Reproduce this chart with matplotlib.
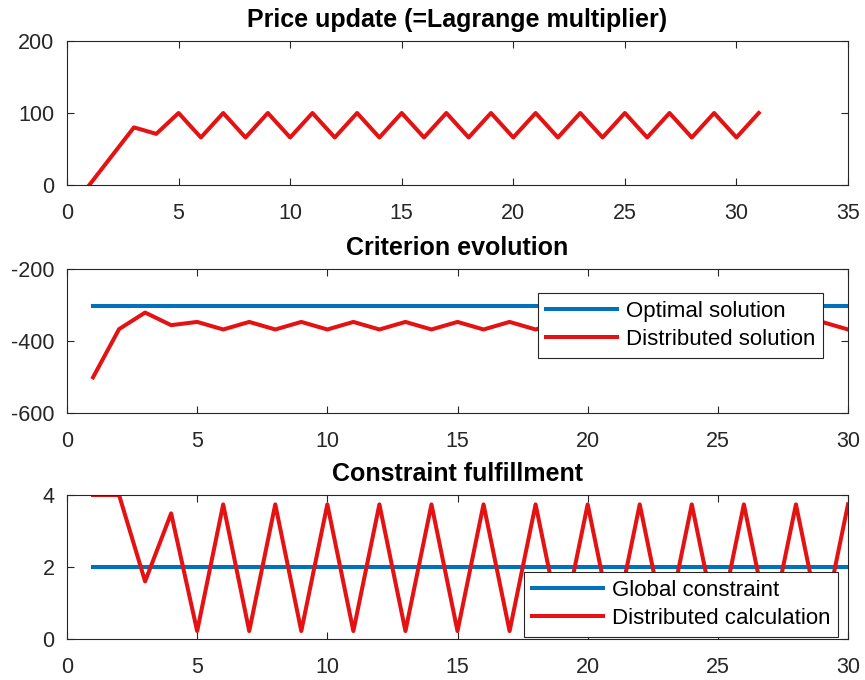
import matplotlib
matplotlib.use("Agg")
import matplotlib.pyplot as plt

plt.rcParams['font.family'] = ['Liberation Sans', 'DejaVu Sans']
plt.rcParams['axes.unicode_minus'] = False

# ---- data ----
price_x = list(range(1, 32))
price_y = [0, 40, 80, 71] + [100 if i % 2 == 1 else 66 for i in range(5, 32)]

crit_x = list(range(1, 31))
crit_opt = [-303] * 30
crit_dist = [-501, -367, -321, -356] + [-347 if i % 2 == 1 else -368 for i in range(5, 31)]

cons_x = list(range(1, 31))
cons_glob = [2] * 30
cons_dist = [4, 4, 1.6, 3.49] + [0.22 if i % 2 == 1 else 3.74 for i in range(5, 31)]

titles = ["Price update (=Lagrange multiplier)", "Criterion evolution", "Constraint fulfillment"]
legend_mid = ["Optimal solution", "Distributed solution"]
legend_bot = ["Global constraint", "Distributed calculation"]

BLUE = '#0072BD'
RED = '#E41212'

fig = plt.figure(figsize=(8.65, 6.8), dpi=100)
L, R = 67/865, 848/865
def ax_at(top_px, bot_px):
    return fig.add_axes([L, 1 - bot_px/680, R - L, (bot_px - top_px)/680])

ax1 = ax_at(41, 185)
ax2 = ax_at(269, 413)
ax3 = ax_at(495, 639)

for ax in (ax1, ax2, ax3):
    ax.tick_params(direction='in', top=True, right=True, labelsize=15.5, length=5, width=0.8,
                   colors='#262626', labelcolor='#262626')
    ax.tick_params(axis='x', pad=13)
    ax.tick_params(axis='y', pad=9)
    for s in ax.spines.values():
        s.set_color('#262626')
        s.set_linewidth(0.8)

lw = 2.9
TFS = 18
TPAD = 10
ax1.plot(price_x, price_y, color=RED, lw=lw)
ax1.set_xlim(0, 35)
ax1.set_ylim(0, 200)
ax1.set_xticks(range(0, 36, 5))
ax1.set_yticks([0, 100, 200])
ax1.set_title(titles[0], fontsize=TFS, fontweight='bold', pad=TPAD)

legkw = dict(fontsize=16, frameon=True, fancybox=False, edgecolor='#262626', framealpha=1,
             handlelength=3.2, borderpad=0.35, labelspacing=0.33, handletextpad=0.4, borderaxespad=0)

ax2.plot(crit_x, crit_opt, color=BLUE, lw=lw, label=legend_mid[0])
ax2.plot(crit_x, crit_dist, color=RED, lw=lw, label=legend_mid[1])
ax2.set_xlim(0, 30)
ax2.set_ylim(-600, -200)
ax2.set_xticks(range(0, 31, 5))
ax2.set_yticks([-600, -400, -200])
ax2.set_title(titles[1], fontsize=TFS, fontweight='bold', pad=TPAD)
leg2 = ax2.legend(loc='upper right', bbox_to_anchor=(823/865, 1 - 293/680), bbox_transform=fig.transFigure, **legkw)
leg2.get_frame().set_linewidth(0.8)

ax3.plot(cons_x, cons_glob, color=BLUE, lw=lw, label=legend_bot[0])
ax3.plot(cons_x, cons_dist, color=RED, lw=lw, label=legend_bot[1])
ax3.set_xlim(0, 30)
ax3.set_ylim(0, 4)
ax3.set_xticks(range(0, 31, 5))
ax3.set_yticks([0, 2, 4])
ax3.set_title(titles[2], fontsize=TFS, fontweight='bold', pad=TPAD)
leg3 = ax3.legend(loc='lower right', bbox_to_anchor=(838/865, 1 - 637/680), bbox_transform=fig.transFigure, **legkw)
leg3.get_frame().set_linewidth(0.8)

fig.savefig('out.png', dpi=100)
